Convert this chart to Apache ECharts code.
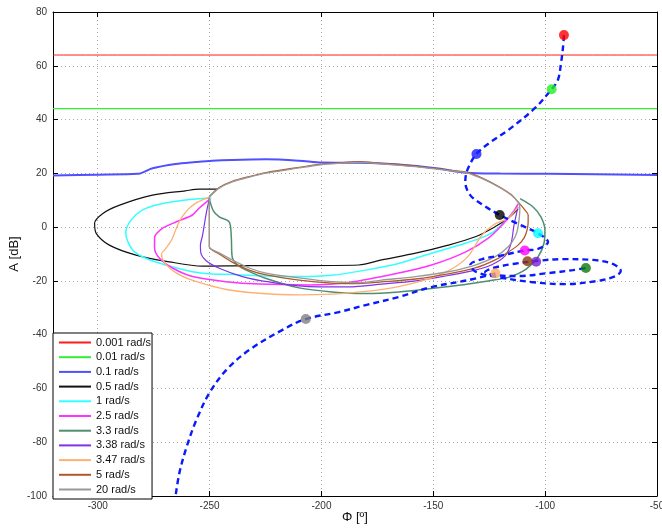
<!DOCTYPE html>
<html>
<head>
<meta charset="utf-8">
<script src="https://cdn.jsdelivr.net/npm/echarts@6/dist/echarts.min.js"></script>
<style>
  html, body { margin: 0; padding: 0; background: #fff; }
  #chart { width: 662px; height: 529px; }
</style>
</head>
<body>
<div id="chart"></div>
<script>
// tick values
const phaseTicks = [-300, -250, -200, -150, -100, -50]

// templates, one closed curve per frequency: [phase deg, gain dB]
const w0001 = [[-320, 64.0], [-50, 64.0]]
const w001 = [[-320, 44.1], [-50, 44.1]]
const w01 = [[-320, 19.2], [-300, 19.5], [-282.2, 19.8], [-275.5, 21.9], [-265.2, 23.5], [-256.3, 24.2], [-248.8, 24.7],
  [-239.9, 25.0], [-224.7, 25.2], [-210.0, 24.7], [-199.8, 24.0], [-183.3, 23.9], [-165.5, 23.3], [-147.7, 21.8],
  [-135.2, 20.2], [-120, 19.9], [-98.7, 19.8], [-50, 19.4]]
const w05 = [[-246.5, 14.1], [-254.6, 14.1], [-260.8, 13.5], [-275.5, 11.9], [-290.2, 8.2], [-297.7, 5.1], [-301.4, 1.4],
  [-300.7, -2.3], [-294.8, -6.7], [-282.9, -10.4], [-268.0, -12.9], [-253.2, -14.5], [-232, -14.3], [-210.0, -14.3],
  [-183.3, -14.1], [-173.1, -12.2], [-157.9, -9.7], [-143.3, -6.7], [-131.2, -3.6], [-122.3, 0.2], [-116.5, 3.3], [-112.1, 6.7]]
const w1 = [[-249.2, 10.8], [-260.8, 10.1], [-272.4, 8.5], [-279.9, 6.4], [-285.1, 2.6], [-287.5, -2.2], [-284.4, -8.5],
  [-278.5, -11.6], [-269.6, -14.1], [-257.7, -16.6], [-248.8, -17.4], [-239.9, -17.6], [-224.7, -18.2], [-210.0, -18.4],
  [-195.3, -17.9], [-180.2, -16.0], [-165.5, -13.5], [-150.8, -9.7], [-135.7, -6.0], [-124.1, -2.3], [-116.5, 3.4], [-112.1, 8.2]]
const w25 = [[-249.7, 10.5], [-254.6, 7.1], [-257.7, 4.5], [-264.8, 2.0], [-271.0, -0.4], [-274.6, -4.0], [-274.6, -7.8],
  [-272.4, -11.6], [-266.4, -15.3], [-257.5, -18.4], [-242.7, -20.3], [-227.8, -21.2], [-205.6, -21.5], [-187.8, -20.6],
  [-165.5, -17.1], [-150.8, -14.1], [-135.7, -9.3], [-125.4, -4.1], [-118.8, 1.2], [-114.3, 5.6], [-112.1, 8.6]]
const w33 = [[-250.1, 10.5], [-248.3, 6.0], [-245.7, 3.8], [-241.2, 1.9], [-240.3, -3.7], [-239.9, -11.1], [-237.6, -14.1],
  [-233.6, -16.0], [-224.7, -19.1], [-210.0, -22.6], [-195.3, -24.1], [-180.2, -24.7], [-165.5, -24.1], [-150.8, -22.8],
  [-135.7, -21.3], [-125.4, -20.0], [-116.5, -18.7], [-108.5, -15.6], [-103.2, -11.1], [-100.5, -5.9], [-100.1, -1.1],
  [-101.9, 3.8], [-105.4, 7.5], [-111.2, 10.6]]
const w338 = [[-250.1, 10.5], [-251.4, 5.6], [-252.3, 1.2], [-253.2, -3.3], [-254.1, -6.7], [-253.9, -9.6], [-251.4, -12.6],
  [-245.7, -15.3], [-235.3, -18.4], [-223.4, -20.4], [-205.6, -22.1], [-187.8, -22.2], [-173.1, -21.2], [-157.9, -20.0],
  [-143.3, -18.0], [-131.2, -16.0], [-124.1, -14.1], [-117.9, -10.7], [-115.2, -5.9], [-113.9, 0.8], [-112.1, 7.5]]
const w347 = [[-250.5, 11.0], [-255.4, 9.3], [-259.5, 6.7], [-262.6, 3.4], [-264.8, -0.3], [-267.0, -4.8], [-269.7, -8.1],
  [-271.5, -10.0], [-270.1, -13.3], [-264.8, -17.1], [-256.8, -20.0], [-242.5, -23.2], [-227.8, -24.6], [-210.0, -25.2],
  [-195.3, -24.9], [-180.2, -23.9], [-165.5, -22.1], [-150.8, -18.9], [-141.0, -15.2], [-134.3, -10.7], [-128.6, -3.3],
  [-123.2, 0.8], [-116.5, 3.4], [-112.1, 7.5]]
const w5 = [[-250.1, 11.4], [-245.7, 14.7], [-239.9, 17.0], [-232.3, 18.8], [-224.7, 20.3], [-210.0, 22.2], [-201.1, 23.3],
  [-192.2, 23.9], [-183.3, 24.3], [-173.1, 23.7], [-157.9, 22.7], [-143.3, 21.2], [-135.2, 20.4], [-128.6, 18.4],
  [-121.0, 15.2], [-115.2, 12.1], [-111.8, 9.1], [-109.1, 6.4], [-107.6, 4.5], [-107.6, 1.8], [-108.1, -1.1],
  [-109.4, -4.0], [-112.1, -6.7], [-116.5, -9.3], [-122.3, -12.2], [-131.2, -15.2], [-143.3, -17.4], [-157.9, -19.3],
  [-173.1, -20.4], [-183.3, -21.0], [-195.3, -20.8], [-210.0, -19.7], [-224.7, -17.8], [-232.3, -16.0], [-239.9, -13.0],
  [-245.7, -10.0], [-250.1, -7.4], [-250.1, -4.0], [-250.1, 2.6], [-250.1, 11.4]]
const w20 = [[-250.1, 11.2], [-245.7, 14.5], [-239.9, 16.8], [-232.3, 18.6], [-224.7, 20.1], [-210.0, 22.0], [-201.1, 23.1],
  [-192.2, 23.7], [-183.3, 24.1], [-173.1, 23.5], [-157.9, 22.5], [-143.3, 21.0], [-135.2, 20.2], [-128.6, 18.2],
  [-121.0, 15.0], [-115.2, 11.9], [-111.8, 8.9], [-111.3, 7.0], [-112.1, 0.2], [-113.4, -3.6], [-116.5, -7.3],
  [-122.3, -11.0], [-131.2, -14.1], [-143.3, -16.6], [-157.9, -18.4], [-173.1, -19.7], [-183.3, -20.7], [-195.3, -20.3],
  [-210.0, -18.9], [-224.7, -17.1], [-232.3, -15.2], [-239.9, -12.2], [-245.7, -9.6], [-250.1, -7.3], [-250.1, -4.0],
  [-250.1, 2.6], [-250.1, 11.2]]

// nominal response (dashed)
const nominalLoop = [[-91.6, 71.4], [-92.0, 67.0], [-92.9, 61.0], [-94.3, 54.7], [-97.1, 51.3], [-104.5, 44.3],
  [-116.5, 36.1], [-124.1, 31.8], [-130.7, 27.2], [-134.8, 21.2], [-135.7, 16.8], [-133.5, 11.9], [-127.7, 8.2],
  [-120.3, 4.5], [-112.1, 1.2], [-103.2, -2.3], [-98.7, -5.5], [-103.2, -8.1], [-109.1, -8.7], [-118.8, -10.4],
  [-128.1, -11.9], [-133.5, -14.1], [-130.8, -16.7], [-121.0, -18.6], [-106.3, -20.4], [-91.2, -21.2], [-76.5, -20.0],
  [-68.5, -18.2], [-66.2, -16.3], [-69.8, -13.7], [-78.7, -12.2], [-92.1, -11.9], [-104.0, -12.6], [-114.3, -13.7],
  [-123.2, -15.2], [-126.8, -16.7], [-122.3, -17.8], [-112.1, -18.2], [-98.7, -17.1], [-87.6, -16.0], [-81.8, -15.2]]
const nominalTail = [[-122.2, -17.2], [-134.3, -19.7], [-150.8, -22.3], [-165.5, -26.0], [-180.2, -29.0], [-192.2, -31.6],
  [-207.0, -34.2], [-217.6, -38.3], [-232.3, -45.7], [-242.5, -53.1], [-250.1, -61.7], [-255.9, -71.7], [-260.3, -81.8],
  [-263.5, -91.4], [-265.2, -100]]

// nominal points at each frequency
const freqPoints = [[-91.6, 71.4], [-97.1, 51.3], [-130.7, 27.2], [-120.3, 4.5], [-103.2, -2.3], [-109.1, -8.7],
  [-81.8, -15.2], [-104.0, -12.9], [-122.2, -17.2], [-107.9, -12.7], [-207.0, -34.2]]

const freqNames = ['0.001 rad/s', '0.01 rad/s', '0.1 rad/s', '0.5 rad/s', '1 rad/s', '2.5 rad/s',
  '3.3 rad/s', '3.38 rad/s', '3.47 rad/s', '5 rad/s', '20 rad/s']
const templates = [w0001, w001, w01, w05, w1, w25, w33, w338, w347, w5, w20]

const lineColors = ['#ff1a1a', '#33ee33', '#5050ff', '#111111', '#33ffff', '#ff33ff',
  '#4f8f6f', '#8033e6', '#ffb070', '#b0582a', '#999999']
const lineWidths = [1, 1.2, 2, 1.2, 1.5, 1.5, 1.5, 1.2, 1.3, 1.3, 1.3]
const dotColors = ['#ff0000', '#22ee22', '#1a1aff', '#000000', '#00ffff', '#ff00ff',
  '#0a7a0a', '#7a1fd6', '#ffaa66', '#8b3a0a', '#808080']

const chart = echarts.init(document.getElementById('chart'))
const font = 'Liberation Sans, Arial, sans-serif'

const templateSeries = templates.map((data, i) => ({
  name: freqNames[i],
  type: 'line',
  data,
  smooth: 0.3,
  showSymbol: false,
  symbol: 'none',
  color: lineColors[i],
  lineStyle: { color: lineColors[i], width: lineWidths[i] },
  z: 2,
  silent: true
}))

const nominalStyle = { color: '#0a1aff', width: 2.4, type: [6, 4] }

chart.setOption({
  animation: false,
  grid: { left: 53, right: 5, top: 12, bottom: 33, outerBoundsMode: 'none', containLabel: false },
  legend: {
    data: freqNames,
    orient: 'vertical',
    left: 53,
    top: 333,
    padding: [3, 1, 3, 6],
    itemGap: 1.7,
    itemWidth: 32,
    itemHeight: 2,
    icon: 'rect',
    backgroundColor: '#fff',
    borderColor: '#000',
    borderWidth: 1,
    borderRadius: 0,
    selectedMode: false,
    textStyle: { fontSize: 11, color: '#111', fontFamily: font, lineHeight: 13 },
    z: 10
  },
  xAxis: [
    {
      type: 'value',
      min: -320,
      max: -50,
      name: 'Φ [º]',
      nameLocation: 'middle',
      nameGap: 15,
      nameMoveOverlap: false,
      nameTextStyle: { fontSize: 13, color: '#111', fontFamily: font },
      axisLine: { onZero: false, lineStyle: { color: '#000', width: 1 } },
      axisTick: { inside: true, length: 5, customValues: phaseTicks, lineStyle: { color: '#000' } },
      axisLabel: { customValues: phaseTicks, fontSize: 10, color: '#333', fontFamily: font, margin: 5 },
      splitLine: { show: true, lineStyle: { color: '#aaa', type: [1, 3], width: 1 } }
    },
    {
      type: 'value',
      position: 'top',
      min: -320,
      max: -50,
      axisLine: { onZero: false, lineStyle: { color: '#000', width: 1 } },
      axisTick: { inside: true, length: 5, customValues: phaseTicks, lineStyle: { color: '#000' } },
      axisLabel: { show: false },
      splitLine: { show: false }
    }
  ],
  yAxis: [
    {
      type: 'value',
      min: -100,
      max: 80,
      interval: 20,
      name: 'A [dB]',
      nameLocation: 'middle',
      nameGap: 32,
      nameMoveOverlap: false,
      nameTextStyle: { fontSize: 13, color: '#111', fontFamily: font },
      axisLine: { onZero: false, lineStyle: { color: '#000', width: 1 } },
      axisTick: { inside: true, length: 5, lineStyle: { color: '#000' } },
      axisLabel: { fontSize: 10, color: '#333', fontFamily: font, margin: 6 },
      splitLine: { show: true, lineStyle: { color: '#aaa', type: [1, 3], width: 1 } }
    },
    {
      type: 'value',
      position: 'right',
      min: -100,
      max: 80,
      interval: 20,
      axisLine: { onZero: false, lineStyle: { color: '#000', width: 1 } },
      axisTick: { inside: true, length: 5, lineStyle: { color: '#000' } },
      axisLabel: { show: false },
      splitLine: { show: false }
    }
  ],
  series: [
    ...templateSeries,
    {
      type: 'line',
      data: nominalLoop,
      smooth: 0.35,
      showSymbol: false,
      symbol: 'none',
      lineStyle: nominalStyle,
      z: 3,
      silent: true
    },
    {
      type: 'line',
      data: nominalTail,
      smooth: 0.35,
      showSymbol: false,
      symbol: 'none',
      lineStyle: nominalStyle,
      z: 3,
      silent: true
    },
    {
      type: 'scatter',
      symbolSize: 10,
      data: freqPoints.map((p, i) => ({ value: p, itemStyle: { color: dotColors[i] } })),
      z: 4,
      silent: true
    }
  ]
})
</script>
</body>
</html>
